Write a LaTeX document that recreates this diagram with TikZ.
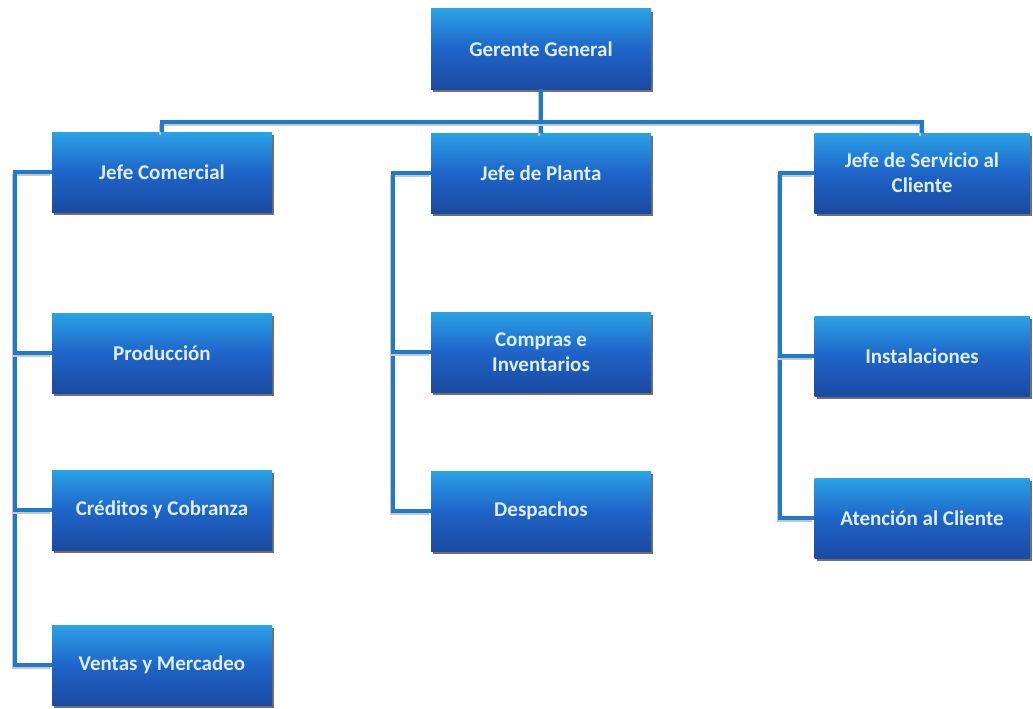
\documentclass[tikz,border=0pt]{standalone}
\usepackage{fontspec}
\setmainfont{Carlito}
\usetikzlibrary{shadows}
\definecolor{boxtop}{HTML}{2AA2E6}
\definecolor{boxmid}{HTML}{1F64C8}
\definecolor{boxbot}{HTML}{1A4AA2}
\definecolor{linec}{HTML}{1F7ACC}
\definecolor{txtc}{HTML}{DDEFFB}
\begin{document}
\begin{tikzpicture}[x=1pt,y=-1pt,
  orgbox/.style={rectangle, minimum width=220pt, minimum height=80pt,
    top color=boxtop, bottom color=boxbot, middle color=boxmid,
    draw=none, text=txtc, align=center,
    font=\bfseries\fontsize{21}{25}\selectfont,
    drop shadow={shadow xshift=2pt, shadow yshift=-3pt, fill=black!80, opacity=0.7}},
  conn/.style={draw=linec, line width=4pt,
    preaction={draw=gray!45, line width=2.5pt, transform canvas={shift={(-2pt,-3pt)}}}}]
\useasboundingbox[fill=white] (0,0) rectangle (1033,709);

\node[orgbox] (gg) at (541,49) {Gerente General};
\node[orgbox] (jc) at (162,172) {Jefe Comercial};
\node[orgbox] (jp) at (541,173) {Jefe de Planta};
\node[orgbox, minimum width=215pt] (js) at (922,173) {Jefe de Servicio al\\Cliente};
\node[orgbox] (pr) at (162,353) {Producción};
\node[orgbox] (ci) at (541,352) {Compras e\\Inventarios};
\node[orgbox, minimum width=215pt] (in) at (922,356) {Instalaciones};
\node[orgbox] (cc) at (162,510) {Créditos y Cobranza};
\node[orgbox] (de) at (541,511) {Despachos};
\node[orgbox, minimum width=215pt] (at) at (922,518) {Atención al Cliente};
\node[orgbox] (vm) at (162,665) {Ventas y Mercadeo};

\coordinate (bus) at (541,122);
\coordinate (lb) at (15,0);
\coordinate (mb) at (393,0);
\coordinate (rb) at (780,0);

% top level
\draw[conn] (gg.south) -- (jp.north);
\draw[conn] (jc.north) |- (bus) -| (js.north);
% left branch
\draw[conn] (jc.west) -| (lb |- vm.west) -- (vm.west);
\draw[conn] (pr.west) -- (lb |- pr.west);
\draw[conn] (cc.west) -- (lb |- cc.west);
% middle branch
\draw[conn] (jp.west) -| (mb |- de.west) -- (de.west);
\draw[conn] (ci.west) -- (mb |- ci.west);
% right branch
\draw[conn] (js.west) -| (rb |- at.west) -- (at.west);
\draw[conn] (in.west) -- (rb |- in.west);
\end{tikzpicture}
\end{document}
